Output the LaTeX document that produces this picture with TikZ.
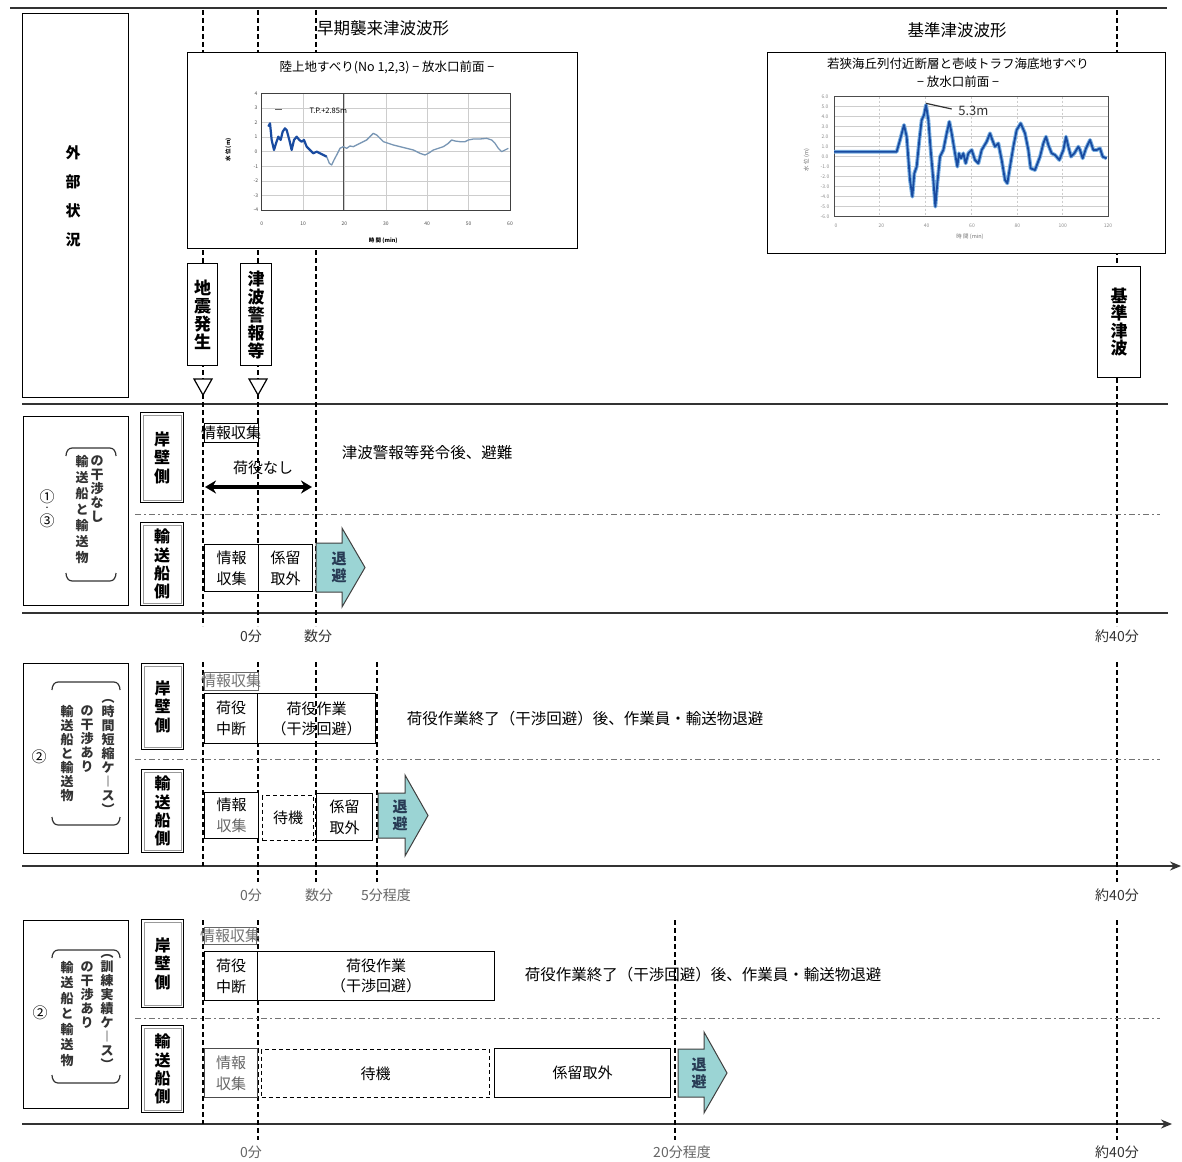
\documentclass[tikz,border=0pt]{standalone}
\usepackage{fontspec}
\setmainfont{Noto Sans CJK JP}
\usetikzlibrary{arrows.meta}
\definecolor{evacc}{RGB}{155,212,212}
\definecolor{gridc}{RGB}{205,205,205}
\definecolor{wavedk}{RGB}{25,75,160}
\definecolor{wavelt}{RGB}{120,150,180}
\definecolor{wavehalo}{RGB}{120,175,225}
\definecolor{evtext}{RGB}{40,60,85}
\tikzset{
  base/.style={inner sep=0pt, align=center},
  tbox/.style={base, font=\fontsize{15}{21}\selectfont},
  tnote/.style={base, font=\fontsize{15.5}{18}\selectfont},
  ttime/.style={base, font=\fontsize{14}{16}\selectfont, text=black!80},
  ttimeg/.style={base, font=\fontsize{14}{16}\selectfont, text=black!60},
  vbold/.style={base, font=\fontsize{16}{18.3}\selectfont\bfseries},
  vcol/.style={base, font=\fontsize{13}{14}\selectfont\bfseries, text=black!80, anchor=north},
  bx/.style={draw, line width=1.1pt, fill=white, inner sep=0pt, anchor=north west},
  dbx/.style={bx, dash pattern=on 4pt off 3pt},
  side/.style={draw, line width=1.3pt, fill=white, inner sep=0pt, anchor=north west},
  vdash/.style={line width=1.1pt, dash pattern=on 5pt off 3pt},
  ddash/.style={black!55, line width=1pt, dash pattern=on 6pt off 3pt on 2pt off 3pt},
  sepl/.style={line width=1.3pt, black!80},
  evac/.style={fill=evacc, draw=black!75, line width=1pt, line join=miter},
  evtxt/.style={base, font=\fontsize{15}{17}\selectfont\bfseries, text=evtext},
  brk/.style={line width=1.2pt, black!80},
  tiny/.style={base, font=\fontsize{5}{6}\selectfont, text=black!70},
  ctitle/.style={base, font=\fontsize{12.5}{15}\selectfont},
}
\newcommand{\mysidebox}[6]{%
  \node[side, minimum width=#4pt, minimum height=#5pt] (#1) at (#2,#3) {};
  \draw[black!40, line width=0.9pt] ([xshift=3pt,yshift=-3pt]#1.north west) rectangle ([xshift=-3pt,yshift=3pt]#1.south east);
  \node[vbold] (#1t) at (#1.center) {#6};
}
\begin{document}
\begin{tikzpicture}[x=1pt,y=-1pt]
\useasboundingbox (0,0) rectangle (1182,1161);
\fill[white] (0,0) rectangle (1182,1161);

% horizontal separators
\draw[sepl] (10,8) -- (1167,8);
\draw[sepl] (22,404) -- (1168,404);
\draw[sepl] (22,613) -- (1168,613);
\draw[sepl,-{Stealth[length=11pt,width=9pt]}] (22,866) -- (1181,866);
\draw[sepl,-{Stealth[length=11pt,width=9pt]}] (22,1124) -- (1172,1124);

% dashed time lines
\foreach \x in {203,258,316,1117} \draw[vdash] (\x,10) -- (\x,626);
\draw[vdash] (203,662) -- (203,866);
\foreach \x in {258,316,377,1117} \draw[vdash] (\x,662) -- (\x,882);
\draw[vdash] (203,920) -- (203,1124);
\foreach \x in {258,675,1117} \draw[vdash] (\x,920) -- (\x,1140);

% dash-dot separators
\draw[ddash] (135,514) -- (1160,514);
\draw[ddash] (135,759) -- (1160,759);
\draw[ddash] (135,1018) -- (1160,1018);

% ================= top section =================
\node[draw, line width=1.3pt, fill=white, inner sep=0pt, anchor=north west, minimum width=106pt, minimum height=384pt] (ext) at (22,13) {};
\node[base, font=\fontsize{15}{29}\selectfont\bfseries] (extt) at (73,196) {外\\部\\状\\況};

\node[base, font=\fontsize{16.5}{18}\selectfont] (ttlA) at (383,28) {早期襲来津波波形};
\node[base, font=\fontsize{16.5}{18}\selectfont] (ttlB) at (957,30) {基準津波波形};

% chart A
\node[draw, line width=1.3pt, fill=white, inner sep=0pt, anchor=north west, minimum width=390pt, minimum height=196pt] (chA) at (187,52) {};
\node[ctitle] (chAt) at (387,67) {陸上地すべり(No 1,2,3) − 放水口前面 −};
\begin{scope}[shift={(180,40)}, x=0.33333pt, y=-0.33333pt]
  \foreach \k in {0,...,8} \draw[gridc, line width=0.6pt] (245,160+43.75*\k) -- (990,160+43.75*\k);
  \foreach \i in {0,...,6} \draw[gridc, line width=0.6pt] (245+124.17*\i,160) -- (245+124.17*\i,510);
  \draw[black!70, line width=1pt] (490,160) -- (490,510);
  \draw[black!75, line width=0.9pt] (245,160) rectangle (990,510);
  \foreach \v [count=\k from 0] in {4,3,2,1,0,-1,-2,-3,-4} \node[tiny] (ya\k) at (228,160+43.75*\k) {\v};
  \foreach \v [count=\i from 0] in {0,10,20,30,40,50,60} \node[tiny] (xa\i) at (245+124.17*\i,552) {\v};
  \node[base, font=\fontsize{5.5}{6}\selectfont\bfseries] (axA) at (610,602) {時 間 (min)};
  \node[base, rotate=90, font=\fontsize{5.5}{6}\selectfont\bfseries] (ayA) at (145,330) {水 位 (m)};
  \draw[black!60, line width=0.6pt] (285,207) -- (305,207);
  \node[base, font=\fontsize{7.5}{8}\selectfont] (legA) at (445,212) {T.P.+2.85m};
  \draw[wavelt, line width=1.3pt, line join=round] (440,350) -- (448,370) -- (455,375) -- (462,360) -- (470,345) -- (480,325) -- (490,320) -- (500,325) -- (510,318) -- (520,320) -- (530,315) -- (540,310) -- (550,305) -- (560,300) -- (570,290) -- (580,280) -- (590,285) -- (600,295) -- (610,305) -- (625,310) -- (640,315) -- (660,320) -- (680,325) -- (700,330) -- (720,340) -- (735,345) -- (745,340) -- (760,330) -- (775,325) -- (790,320) -- (805,310) -- (815,300) -- (825,303) -- (840,305) -- (855,305) -- (865,300) -- (880,297) -- (900,297) -- (920,295) -- (935,300) -- (945,310) -- (955,325) -- (965,335) -- (975,330) -- (985,325);
  \draw[wavedk, line width=2.2pt, line join=round] (265,260) -- (270,250) -- (275,300) -- (282,330) -- (288,310) -- (295,290) -- (302,300) -- (308,275) -- (315,265) -- (320,270) -- (328,300) -- (335,330) -- (342,300) -- (350,290) -- (358,300) -- (365,305) -- (372,300) -- (380,320) -- (390,330) -- (400,340) -- (410,335) -- (420,340) -- (430,345) -- (440,350);
\end{scope}

% chart B
\node[draw, line width=1.3pt, fill=white, inner sep=0pt, anchor=north west, minimum width=398pt, minimum height=201pt] (chB) at (767,52) {};
\node[ctitle] (chBt1) at (958,64) {若狭海丘列付近断層と壱岐トラフ海底地すべり};
\node[ctitle] (chBt2) at (958,82) {− 放水口前面 −};
\begin{scope}[shift={(760,40)}, x=0.33333pt, y=-0.33333pt]
  \foreach \k in {0,...,12} \draw[gridc, line width=0.6pt] (222,170+30*\k) -- (1045,170+30*\k);
  \foreach \i in {0,...,6} \draw[gridc, line width=0.6pt, dash pattern=on 2pt off 2pt] (222+137.2*\i,170) -- (222+137.2*\i,530);
  \draw[black!70, line width=0.9pt] (222,170) rectangle (1045,530);
  \foreach \v [count=\k from 0] in {6.0,5.0,4.0,3.0,2.0,1.0,0.0,-1.0,-2.0,-3.0,-4.0,-5.0,-6.0} \node[tiny, text=black!45] (yb\k) at (195,170+30*\k) {\v};
  \foreach \v [count=\i from 0] in {0,20,40,60,80,100,120} \node[tiny, text=black!45] (xb\i) at (228+136*\i,556) {\v};
  \node[base, font=\fontsize{5.5}{6}\selectfont, text=black!55] (axB) at (630,590) {時 間 (min)};
  \node[base, rotate=90, font=\fontsize{5.5}{6}\selectfont, text=black!60] (ayB) at (140,360) {水 位 (m)};
  \def\wavepath{(222,335) -- (410,335) -- (420,300) -- (432,255) -- (440,290) -- (450,420) -- (457,470) -- (463,400) -- (470,380) -- (478,300) -- (485,240) -- (492,225) -- (498,195) -- (505,240) -- (512,330) -- (520,420) -- (526,500) -- (532,430) -- (540,350) -- (550,330) -- (560,280) -- (568,245) -- (575,280) -- (585,340) -- (592,380) -- (597,340) -- (603,355) -- (610,340) -- (617,370) -- (625,340) -- (635,330) -- (645,360) -- (655,370) -- (665,330) -- (680,305) -- (690,280) -- (697,300) -- (705,320) -- (715,310) -- (725,360) -- (735,420) -- (742,430) -- (750,380) -- (760,320) -- (770,270) -- (782,250) -- (795,280) -- (805,330) -- (812,385) -- (825,390) -- (840,350) -- (850,310) -- (858,290) -- (865,315) -- (875,340) -- (885,345) -- (898,360) -- (910,330) -- (918,290) -- (925,320) -- (933,350) -- (943,340) -- (955,320) -- (960,330) -- (968,355) -- (978,325) -- (990,300) -- (1000,330) -- (1010,330) -- (1020,325) -- (1028,350) -- (1040,355)}
  \draw[wavehalo, line width=3.8pt, line join=round] \wavepath;
  \draw[wavedk, line width=1.8pt, line join=round] \wavepath;
  \draw[black!80, line width=1.2pt] (498,190) -- (575,207);
  \node[base, font=\fontsize{13}{14}\selectfont, text=black!80] (pk) at (640,212) {5.3m};
\end{scope}

% event boxes
\node[draw, line width=1.2pt, fill=white, inner sep=0pt, anchor=north west, minimum width=30pt, minimum height=102pt] (quake) at (187,263) {};
\node[vbold, font=\fontsize{17}{18}\selectfont\bfseries] (quaket) at (quake.center) {地\\震\\発\\生};
\node[draw, line width=1.2pt, fill=white, inner sep=0pt, anchor=north west, minimum width=31pt, minimum height=102pt] (warn) at (240,263) {};
\node[vbold, font=\fontsize{17}{18}\selectfont\bfseries] (warnt) at (warn.center) {津\\波\\警\\報\\等};
\node[draw, line width=1.2pt, fill=white, inner sep=0pt, anchor=north west, minimum width=43pt, minimum height=111pt] (stdw) at (1097,266) {};
\node[vbold, font=\fontsize{17}{17.5}\selectfont\bfseries] (stdwt) at (stdw.center) {基\\準\\津\\波};
\draw[line width=1.2pt, fill=white, line join=miter] (194,379) -- (212,379) -- (203,395) -- cycle;
\draw[line width=1.2pt, fill=white, line join=miter] (249,379) -- (267,379) -- (258,395) -- cycle;

% ================= section 1 =================
\node[draw, line width=1.3pt, fill=white, inner sep=0pt, anchor=north west, minimum width=105pt, minimum height=189pt] (sec1) at (23,416) {};
\node[base, font=\fontsize{15}{16}\selectfont] (s1n1) at (47,497) {①};
\node[base, font=\fontsize{7}{7}\selectfont] (s1n2) at (47,509) {・};
\node[base, font=\fontsize{15}{16}\selectfont] (s1n3) at (47,521) {③};
\node[vcol] (s1c1) at (97,455) {の\\干\\渉\\な\\し};
\node[vcol, font=\fontsize{13}{16}\selectfont\bfseries] (s1c2) at (82,455) {輸\\送\\船\\と\\輸\\送\\物};
\draw[brk] (66,456) to[out=90,in=180] (72,448) -- (110,448) to[out=0,in=90] (116,456);
\draw[brk] (66,573) to[out=-90,in=180] (72,581) -- (110,581) to[out=0,in=-90] (116,573);

\mysidebox{s1q}{140}{412}{43}{90}{岸\\壁\\側}
\mysidebox{s1s}{140}{522}{43}{83}{輸\\送\\船\\側}

\node[bx, minimum width=54pt, minimum height=19pt] (s1ib) at (204,423) {};
\node[tbox] (s1ibt) at (231,433) {情報収集};
\node[tbox] (s1none) at (263,468) {荷役なし};
\coordinate (s1a) at (205,487);
\coordinate (s1b) at (312,487);
\draw[line width=3.5pt, {Stealth[length=11pt,width=13pt]}-{Stealth[length=11pt,width=13pt]}] (s1a) -- (s1b);
\node[tnote] (s1note) at (427,453) {津波警報等発令後、避難};

\node[bx, minimum width=54pt, minimum height=47pt] (s1info) at (204,544) {};
\node[tbox] (s1infot) at (s1info.center) {情報\\収集};
\node[bx, minimum width=54pt, minimum height=47pt] (s1moor) at (258,544) {};
\node[tbox] (s1moort) at (s1moor.center) {係留\\取外};
\draw[evac] (316,543) -- (342,543) -- (342,528) -- (365,567.5) -- (342,607) -- (342,592) -- (316,592) -- cycle;
\node[evtxt] (s1ev) at (339,567) {退\\避};

\node[ttime] (s1t0) at (251,636) {0分};
\node[ttime] (s1t1) at (318,636) {数分};
\node[ttime] (s1t2) at (1117,636) {約40分};

% ================= section 2 =================
\node[draw, line width=1.3pt, fill=white, inner sep=0pt, anchor=north west, minimum width=105pt, minimum height=190pt] (sec2) at (23,663) {};
\node[base, font=\fontsize{15}{16}\selectfont] (s2n) at (39,757) {②};
\node[vcol] (s2c1) at (108,699) {︵\\時\\間\\短\\縮\\ケ\\︱\\ス\\︶};
\node[vcol] (s2c2) at (87,705) {の\\干\\渉\\あ\\り};
\node[vcol] (s2c3) at (67,705) {輸\\送\\船\\と\\輸\\送\\物};
\draw[brk] (52,690) to[out=90,in=180] (58,682) -- (114,682) to[out=0,in=90] (120,690);
\draw[brk] (52,817) to[out=-90,in=180] (58,825) -- (114,825) to[out=0,in=-90] (120,817);

\mysidebox{s2q}{141}{663}{42}{86}{岸\\壁\\側}
\mysidebox{s2s}{141}{769}{42}{83}{輸\\送\\船\\側}

\node[bx, minimum width=54pt, minimum height=18pt, draw=black!60] (s2ib) at (204,672) {};
\node[tbox, text=black!55] (s2ibt) at (231,681) {情報収集};
\node[bx, minimum width=53pt, minimum height=50pt] (s2stop) at (204,693) {};
\node[tbox] (s2stopt) at (s2stop.center) {荷役\\中断};
\node[bx, minimum width=118pt, minimum height=50pt] (s2work) at (257,693) {};
\node[tbox, font=\fontsize{15}{20}\selectfont] (s2workt) at (s2work.center) {荷役作業\\（干渉回避）};
\draw[vdash] (316,693) -- (316,743);
\node[tnote] (s2note) at (585,719) {荷役作業終了（干渉回避）後、作業員・輸送物退避};

\node[bx, minimum width=54pt, minimum height=46pt] (s2info) at (204,792) {};
\node[tbox] (s2infot) at (s2info.center) {情報\\{\color{black!60}収集}};
\node[dbx, minimum width=51pt, minimum height=45pt] (s2wait) at (262,795) {};
\node[tbox] (s2waitt) at (s2wait.center) {待機};
\node[bx, minimum width=56pt, minimum height=47pt] (s2moor) at (316,793) {};
\node[tbox] (s2moort) at (s2moor.center) {係留\\取外};
\draw[evac] (378,793) -- (405,793) -- (405,775) -- (428,815.5) -- (405,856) -- (405,838) -- (378,838) -- cycle;
\node[evtxt] (s2ev) at (400,815) {退\\避};

\node[ttimeg] (s2t0) at (251,895) {0分};
\node[ttimeg] (s2t1) at (319,895) {数分};
\node[ttimeg] (s2t2) at (386,895) {5分程度};
\node[ttime] (s2t3) at (1117,895) {約40分};

% ================= section 3 =================
\node[draw, line width=1.3pt, fill=white, inner sep=0pt, anchor=north west, minimum width=105pt, minimum height=188pt] (sec3) at (23,920) {};
\node[base, font=\fontsize{15}{16}\selectfont] (s3n) at (40,1013) {②};
\node[vcol] (s3c1) at (107,954) {︵\\訓\\練\\実\\績\\ケ\\︱\\ス\\︶};
\node[vcol] (s3c2) at (87,961) {の\\干\\渉\\あ\\り};
\node[vcol, font=\fontsize{13}{15.5}\selectfont\bfseries] (s3c3) at (67,961) {輸\\送\\船\\と\\輸\\送\\物};
\draw[brk] (52,958) to[out=90,in=180] (58,950) -- (114,950) to[out=0,in=90] (120,958);
\draw[brk] (52,1075) to[out=-90,in=180] (58,1083) -- (114,1083) to[out=0,in=-90] (120,1075);

\mysidebox{s3q}{141}{919}{42}{88}{岸\\壁\\側}
\mysidebox{s3s}{141}{1025}{42}{87}{輸\\送\\船\\側}

\node[bx, minimum width=52pt, minimum height=17pt, draw=black!60] (s3ib) at (204,927) {};
\node[tbox, text=black!55] (s3ibt) at (230,936) {情報収集};
\node[bx, minimum width=53pt, minimum height=49pt] (s3stop) at (204,951) {};
\node[tbox] (s3stopt) at (s3stop.center) {荷役\\中断};
\node[bx, minimum width=237pt, minimum height=49pt] (s3work) at (257,951) {};
\node[tbox, font=\fontsize{15}{20}\selectfont] (s3workt) at (s3work.center) {荷役作業\\（干渉回避）};
\node[tnote] (s3note) at (703,975) {荷役作業終了（干渉回避）後、作業員・輸送物退避};

\node[bx, minimum width=53pt, minimum height=49pt, draw=black!70] (s3info) at (204,1048) {};
\node[tbox, text=black!60] (s3infot) at (s3info.center) {情報\\収集};
\node[dbx, minimum width=228pt, minimum height=48pt] (s3wait) at (261,1049) {};
\node[tbox] (s3waitt) at (s3wait.center) {待機};
\node[bx, minimum width=176pt, minimum height=49pt] (s3moor) at (494,1048) {};
\node[tbox] (s3moort) at (s3moor.center) {係留取外};
\draw[evac] (678,1049) -- (704,1049) -- (704,1032) -- (727,1073) -- (704,1113) -- (704,1097) -- (678,1097) -- cycle;
\node[evtxt] (s3ev) at (699,1073) {退\\避};

\node[ttimeg] (s3t0) at (251,1152) {0分};
\node[ttimeg] (s3t1) at (682,1152) {20分程度};
\node[ttime] (s3t2) at (1117,1152) {約40分};
\end{tikzpicture}
\end{document}
